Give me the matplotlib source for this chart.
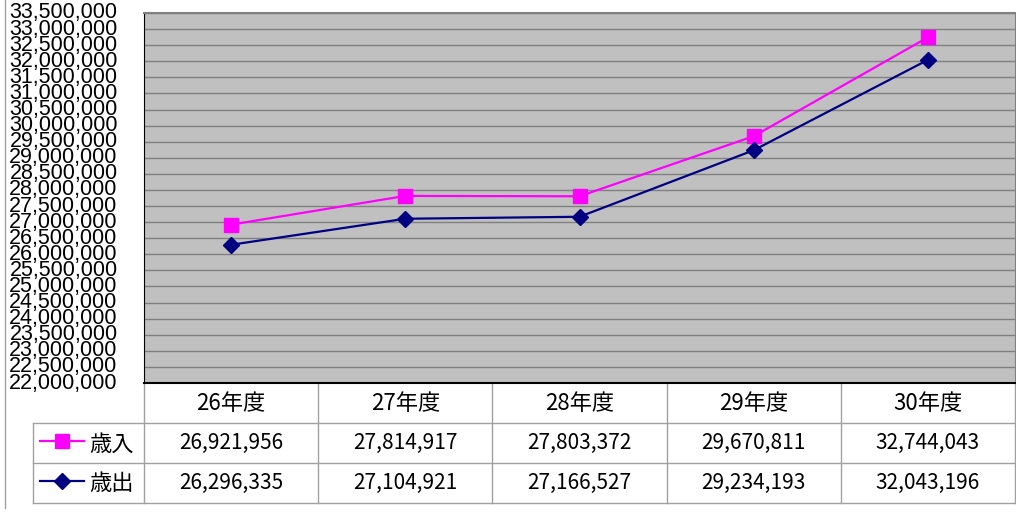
import matplotlib
matplotlib.use("Agg")
import matplotlib.pyplot as plt
import matplotlib.transforms as mtransforms
from matplotlib.ticker import MultipleLocator, FuncFormatter
from matplotlib.lines import Line2D

categories = ["26年度", "27年度", "28年度", "29年度", "30年度"]
revenue = [26921956, 27814917, 27803372, 29670811, 32744043]
expenditure = [26296335, 27104921, 27166527, 29234193, 32043196]
series_names = ["歳入", "歳出"]

W, H = 1016, 518
fig = plt.figure(figsize=(W / 100, H / 100), dpi=100)
fig.patch.set_facecolor("white")

left, right, top, bottom = 144, 1015, 13, 383
ax = fig.add_axes([left / W, (H - bottom) / H, (right - left) / W, (bottom - top) / H])
ax.set_facecolor("#C0C0C0")

x = list(range(len(categories)))
ax.plot(x, revenue, color="#FF00FF", lw=1.6, marker="s", ms=10, mec="#FF00FF", mfc="#FF00FF", zorder=3)
ax.plot(x, expenditure, color="#000080", lw=1.6, marker="D", ms=8, mec="#000080", mfc="#000080", zorder=3)

ax.set_xlim(-0.5, len(categories) - 0.5)
ax.set_ylim(22000000, 33500000)
ax.yaxis.set_major_locator(MultipleLocator(500000))
ax.yaxis.set_major_formatter(FuncFormatter(lambda v, p: f"{int(round(v)):,}"))
ax.grid(axis="y", color="#808080", lw=1.0)
ax.set_axisbelow(True)
ax.set_xticks([])
ax.tick_params(axis="y", length=0, pad=19, labelsize=15.5)
for lab in ax.get_yticklabels():
    lab.set_fontfamily(["Liberation Sans", "DejaVu Sans"])
    lab.set_verticalalignment("center")
ax.spines["left"].set_color("black")
ax.spines["bottom"].set_color("black")
ax.spines["bottom"].set_linewidth(1.5)
ax.spines["top"].set_color("#808080")
ax.spines["top"].set_linewidth(1.5)
ax.spines["right"].set_color("#808080")

# Data table below the plot
tr = mtransforms.blended_transform_factory(ax.transData, ax.transAxes)
def fy(py):
    return (bottom - py) / (bottom - top)

cjk = ["Noto Sans CJK JP", "DejaVu Sans"]
grid_c = "#A0A0A0"
row_lines = [423, 463, 503]
for i in range(len(categories) + 1):
    xb = i - 0.5
    ax.add_line(Line2D([xb, xb], [fy(383), fy(503)], transform=tr, color=grid_c, lw=1, clip_on=False))
for py in row_lines:
    fig.add_artist(Line2D([33 / W, right / W], [(H - py) / H] * 2, color=grid_c, lw=1))
fig.add_artist(Line2D([33 / W, 33 / W], [(H - 423) / H, (H - 503) / H], color=grid_c, lw=1))
fig.add_artist(Line2D([5 / W, 5 / W], [1.0, (H - 508) / H], color="#A0A0A0", lw=1))

for i, c in enumerate(categories):
    ax.text(i, fy(404), c, transform=tr, ha="center", va="center", fontsize=16, family=cjk)
    ax.text(i, fy(443), f"{revenue[i]:,}", transform=tr, ha="center", va="center", fontsize=15, family=cjk)
    ax.text(i, fy(483), f"{expenditure[i]:,}", transform=tr, ha="center", va="center", fontsize=15, family=cjk)

for py, name, col, mk, ms in [(441, series_names[0], "#FF00FF", "s", 10), (481, series_names[1], "#000080", "D", 8)]:
    yy = (H - py) / H
    fig.add_artist(Line2D([40 / W, 84 / W], [yy, yy], color=col, lw=1.6))
    fig.add_artist(Line2D([62 / W], [yy], color=col, marker=mk, ms=ms, mfc=col, mec=col, lw=0))
    fig.text(89 / W, (H - 444) / H if name == series_names[0] else (H - 484) / H, name,
             ha="left", va="center", fontsize=16, family=cjk)

fig.savefig("out.png", dpi=100)
